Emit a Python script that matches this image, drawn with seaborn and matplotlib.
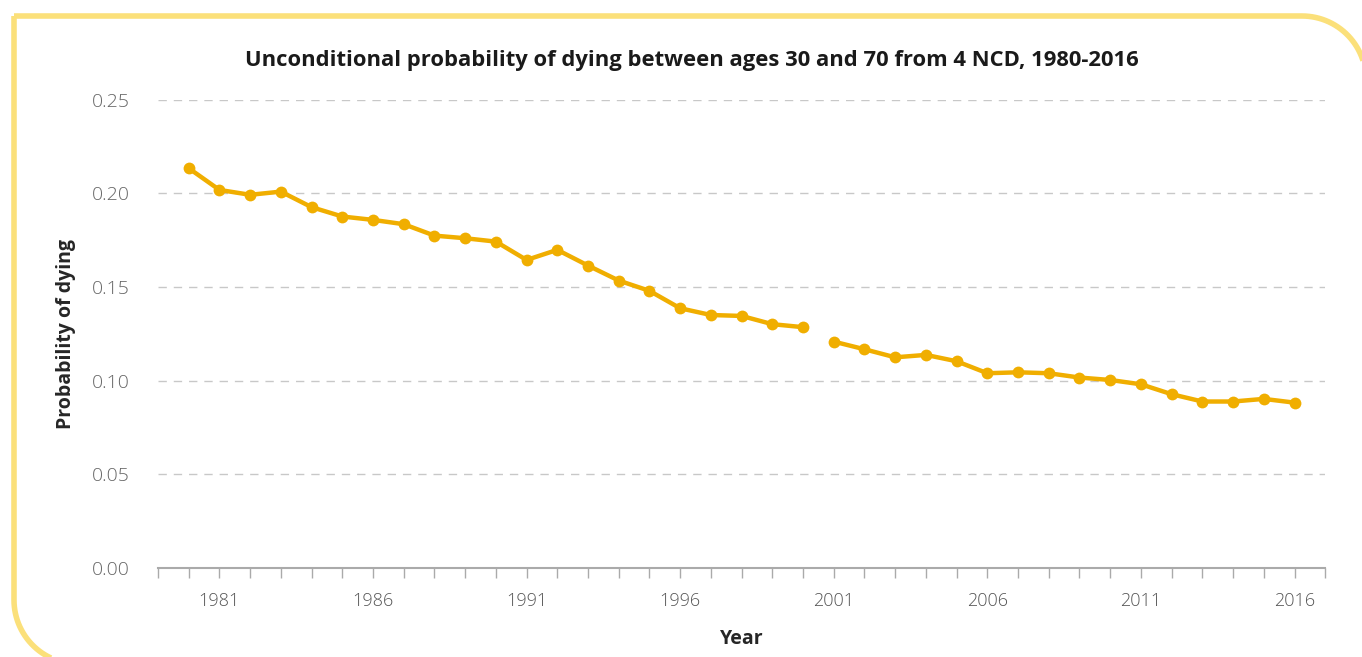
import matplotlib.pyplot as plt
from matplotlib.lines import Line2D
import numpy as np
import pandas as pd
import seaborn as sns

# values
years_a = list(range(1980, 2001))
prob_a = [0.2135, 0.2019, 0.1993, 0.2010, 0.1927, 0.1877, 0.1859, 0.1836, 0.1775, 0.1761,
          0.1743, 0.1645, 0.1699, 0.1615, 0.1535, 0.1480, 0.1387, 0.1351, 0.1346, 0.1302, 0.1286]
years_b = list(range(2001, 2017))
prob_b = [0.1209, 0.1168, 0.1125, 0.1138, 0.1104, 0.1040, 0.1045, 0.1040, 0.1017, 0.1004,
          0.0981, 0.0928, 0.0889, 0.0889, 0.0903, 0.0883]
label_years = [1981, 1986, 1991, 1996, 2001, 2006, 2011, 2016]
y_ticks = [0.00, 0.05, 0.10, 0.15, 0.20, 0.25]

df = pd.DataFrame({
    'Year': years_a + years_b,
    'prob': prob_a + prob_b,
    'seg': ['a'] * len(years_a) + ['b'] * len(years_b),
})

sns.set_style('white')
plt.rcParams['font.family'] = ['Open Sans', 'DejaVu Sans']

W, H = 1362, 657
fig = plt.figure(figsize=(W / 100, H / 100), dpi=100)
ax = fig.add_axes([0.116, 0.1355, 0.857, 0.7125])

# yellow frame: square top-left, rounded top-right and bottom-left (pixels, y from top)
left, top, right, bottom, r = 14, 16, 1366, 664, 64
t = np.linspace(0, np.pi / 2, 30)
fx = [left, right - r] + list(right - r + r * np.sin(t)) + [right]
fy = [top, top] + list(top + r - r * np.cos(t)) + [bottom + 30]
gx = [left, left] + list(left + r - r * np.cos(t)) + [right]
gy = [top, bottom - r] + list(bottom - r + r * np.sin(t)) + [bottom]
for xs, ys in [(fx, fy), (gx, gy)]:
    fig.add_artist(Line2D(np.array(xs) / W, 1 - np.array(ys) / H, transform=fig.transFigure,
                          color='#fbe07a', linewidth=4, solid_capstyle='butt', clip_on=False))

gold = '#f0ae00'
sns.lineplot(data=df, x='Year', y='prob', units='seg', estimator=None,
             color=gold, linewidth=3.2, marker='o', markersize=8.5,
             markeredgewidth=0, ax=ax)

ax.set_xlim(1979, 2017)
ax.set_ylim(0, 0.25)
ax.set_yticks(y_ticks)
ax.set_yticklabels(['%.2f' % v for v in y_ticks], fontsize=14, color='#666666',
                   fontweight='light')
all_years = list(range(1979, 2018))
ax.set_xticks(all_years)
ax.set_xticklabels([str(y) if y in label_years else '' for y in all_years],
                   fontsize=13, color='#555555', fontweight='light')
ax.tick_params(axis='x', length=7, color='#aaaaaa', width=1, pad=10, direction='out', bottom=True)
ax.tick_params(axis='y', length=0, pad=20)

for v in y_ticks[1:]:
    ax.axhline(v, color='#c8c8c8', linestyle=(0, (6, 5)), linewidth=1, zorder=0)

for s in ['top', 'right', 'left']:
    ax.spines[s].set_visible(False)
ax.spines['bottom'].set_color('#aaaaaa')
ax.spines['bottom'].set_linewidth(1.5)

ax.set_xlabel('Year', fontsize=14, fontweight='bold', labelpad=14)
ax.set_ylabel('Probability of dying', fontsize=14, fontweight='bold', labelpad=12)
fig.text(0.508, 0.908, 'Unconditional probability of dying between ages 30 and 70 from 4 NCD, 1980-2016',
         ha='center', va='center', fontsize=15.8, fontweight='bold', color='#1a1a1a')

fig.savefig('out.png', dpi=100, facecolor='white')
